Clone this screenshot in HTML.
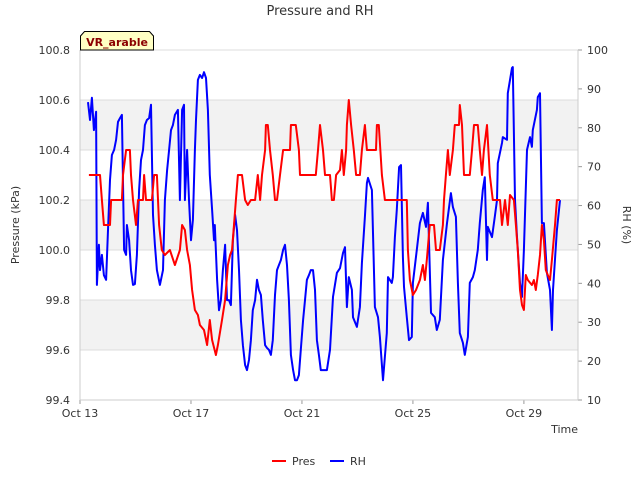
<!DOCTYPE html>
<html><head><meta charset="utf-8"><style>
body{margin:0;background:#fff;font-family:"Liberation Sans","DejaVu Sans",sans-serif}
svg text{font-family:"DejaVu Sans","Liberation Sans",sans-serif}
</style></head><body>
<svg id="c" width="640" height="480" viewBox="0 0 640 480" xmlns="http://www.w3.org/2000/svg">
<rect width="640" height="480" fill="#fff"/>
<text x="320" y="15" text-anchor="middle" font-size="13" fill="#333">Pressure and RH</text>
<g id="bands"></g><g id="grid"></g><g id="axes"></g><g id="series"></g>
<text transform="translate(19,225) rotate(-90)" text-anchor="middle" font-size="11" fill="#333">Pressure (kPa)</text>
<text transform="translate(623,225) rotate(90)" text-anchor="middle" font-size="11" fill="#333">RH (%)</text>
<text x="578" y="433" text-anchor="end" font-size="11" fill="#333">Time</text>
<g>
<path d="M80.5,50 L80.5,36 L84.5,31.5 L149.5,31.5 L153.5,36 L153.5,50 Z" fill="#ffffc4" stroke="#000" stroke-width="1"/>
<text x="117" y="46" text-anchor="middle" font-size="11" font-weight="bold" fill="#8b0000">VR_arable</text>
</g>
<g>
<g><line x1="272" y1="461" x2="286" y2="461" stroke="#f00" stroke-width="2"/><text x="292" y="465" font-size="11" fill="#333">Pres</text></g>
<g><line x1="330" y1="461" x2="344" y2="461" stroke="#00f" stroke-width="2"/><text x="350" y="465" font-size="11" fill="#333">RH</text></g>
</g>
</svg>
<script>
const xTickDays=[0,4,8,12,16];
const xTickLabels=["Oct 13","Oct 17","Oct 21","Oct 25","Oct 29"];
const pTicks=[99.4,99.6,99.8,100.0,100.2,100.4,100.6,100.8];
const rhTicks=[10,20,30,40,50,60,70,80,90,100];
const presDays=[0.32,0.72,0.79,0.86,1.08,1.12,1.51,1.55,1.66,1.80,1.84,1.91,2.02,2.09,2.27,2.31,2.38,2.59,2.67,2.77,2.85,2.95,3.06,3.24,3.42,3.60,3.68,3.78,3.86,3.96,4.04,4.14,4.25,4.32,4.47,4.58,4.68,4.76,4.83,4.90,4.97,5.12,5.23,5.33,5.41,5.48,5.55,5.62,5.69,5.84,5.95,6.05,6.16,6.31,6.41,6.49,6.56,6.67,6.70,6.77,6.85,6.95,7.03,7.10,7.21,7.32,7.57,7.60,7.78,7.89,7.93,8.50,8.58,8.65,8.76,8.83,9.01,9.08,9.15,9.23,9.37,9.44,9.51,9.59,9.62,9.69,9.77,9.87,9.95,10.09,10.16,10.27,10.34,10.67,10.70,10.77,10.88,10.99,11.78,11.82,11.89,12.00,12.11,12.25,12.36,12.43,12.50,12.61,12.76,12.83,12.97,13.08,13.12,13.19,13.26,13.33,13.44,13.51,13.66,13.69,13.77,13.84,14.05,14.13,14.20,14.34,14.41,14.49,14.56,14.67,14.77,14.88,15.14,15.21,15.32,15.42,15.50,15.64,15.71,15.78,15.86,15.93,16.00,16.07,16.14,16.29,16.36,16.43,16.50,16.58,16.65,16.72,16.79,16.86,16.94,17.01,17.12,17.19,17.30];
const presVals=[100.3,100.3,100.2,100.1,100.1,100.2,100.2,100.3,100.4,100.4,100.3,100.2,100.1,100.2,100.2,100.3,100.2,100.2,100.3,100.3,100.1,100.0,99.98,100.0,99.94,100.0,100.1,100.08,100.0,99.94,99.84,99.76,99.74,99.7,99.68,99.62,99.72,99.64,99.61,99.58,99.62,99.72,99.8,99.94,99.98,100.0,100.1,100.2,100.3,100.3,100.2,100.18,100.2,100.2,100.3,100.2,100.3,100.4,100.5,100.5,100.4,100.3,100.2,100.2,100.3,100.4,100.4,100.5,100.5,100.4,100.3,100.3,100.4,100.5,100.4,100.3,100.3,100.2,100.2,100.3,100.32,100.4,100.3,100.4,100.5,100.6,100.5,100.4,100.3,100.3,100.4,100.5,100.4,100.4,100.5,100.5,100.3,100.2,100.2,100.0,99.88,99.82,99.84,99.88,99.94,99.88,99.96,100.1,100.1,100.0,100.0,100.1,100.2,100.3,100.4,100.3,100.4,100.5,100.5,100.58,100.5,100.3,100.3,100.4,100.5,100.5,100.4,100.3,100.4,100.5,100.3,100.2,100.2,100.1,100.2,100.1,100.22,100.2,100.1,100.0,99.84,99.78,99.76,99.9,99.88,99.86,99.88,99.84,99.9,99.98,100.1,100.04,99.92,99.9,99.88,99.96,100.1,100.2,100.2];
const rhDays=[0.29,0.36,0.43,0.50,0.58,0.61,0.68,0.72,0.79,0.86,0.94,1.01,1.08,1.15,1.23,1.30,1.37,1.44,1.51,1.59,1.66,1.69,1.77,1.84,1.91,1.98,2.05,2.13,2.20,2.27,2.34,2.41,2.49,2.56,2.63,2.70,2.77,2.88,2.99,3.06,3.14,3.21,3.28,3.35,3.42,3.53,3.60,3.68,3.75,3.78,3.86,3.93,4.00,4.07,4.14,4.18,4.25,4.32,4.40,4.47,4.54,4.61,4.68,4.76,4.83,4.86,4.94,5.01,5.08,5.15,5.23,5.30,5.37,5.44,5.51,5.59,5.66,5.73,5.80,5.87,5.95,6.02,6.09,6.16,6.23,6.31,6.38,6.45,6.52,6.59,6.67,6.74,6.81,6.88,6.95,7.03,7.10,7.17,7.24,7.32,7.39,7.46,7.53,7.60,7.68,7.75,7.82,7.89,7.96,8.04,8.11,8.18,8.25,8.32,8.40,8.47,8.54,8.61,8.68,8.76,8.90,9.01,9.12,9.26,9.37,9.48,9.55,9.62,9.69,9.80,9.84,9.98,10.09,10.16,10.27,10.34,10.38,10.52,10.56,10.63,10.74,10.81,10.92,11.06,11.10,11.24,11.28,11.35,11.42,11.50,11.57,11.64,11.68,11.78,11.86,11.96,12.00,12.14,12.25,12.36,12.47,12.54,12.65,12.79,12.86,12.97,13.08,13.23,13.37,13.44,13.55,13.62,13.69,13.80,13.87,13.98,14.05,14.16,14.23,14.34,14.41,14.52,14.59,14.67,14.70,14.85,14.95,15.03,15.06,15.21,15.24,15.39,15.42,15.57,15.60,15.68,15.75,15.86,15.93,16.00,16.11,16.22,16.29,16.32,16.47,16.50,16.58,16.65,16.72,16.83,16.94,17.01,17.05,17.19,17.30];
const rhVals=[86.6,82.0,87.7,79.4,84.1,39.6,49.9,43.4,47.3,42.1,40.9,53.7,66.6,73.0,74.3,76.9,81.5,82.5,83.3,48.6,47.3,55.0,51.1,43.4,39.6,39.8,47.3,64.0,71.7,74.3,80.7,82.0,82.5,85.9,57.6,49.9,43.4,39.6,43.4,61.4,69.1,74.3,79.4,80.7,83.3,84.6,61.4,84.6,85.9,61.4,74.3,61.4,51.1,56.3,74.3,82.0,92.3,93.6,92.8,94.3,92.8,84.6,67.9,58.9,51.1,55.0,40.9,33.1,35.7,43.4,49.9,35.7,35.7,34.4,51.1,57.6,53.7,43.4,30.6,24.1,19.0,17.7,20.3,25.4,33.1,35.7,40.9,38.3,37.0,30.6,24.1,23.4,22.9,21.6,25.4,37.0,43.4,44.7,46.0,48.6,49.9,44.7,35.7,21.6,17.7,15.1,15.1,16.4,22.9,30.6,35.7,40.9,42.1,43.4,43.4,38.3,25.4,21.6,17.7,17.7,17.7,22.9,36.5,42.7,43.9,47.8,49.3,33.9,41.6,38.3,31.3,28.8,33.9,45.2,57.1,65.8,67.1,64.0,52.9,33.9,31.3,26.2,15.1,27.2,41.6,40.1,41.6,51.9,58.9,69.9,70.4,46.8,39.1,31.3,25.4,26.2,40.1,48.6,55.5,58.1,54.5,60.7,32.4,31.3,28.0,30.6,46.0,55.5,63.2,59.6,57.1,40.1,27.2,24.7,21.6,26.2,40.1,41.6,43.4,48.6,55.5,64.0,67.3,46.0,54.5,51.9,57.1,61.4,70.9,76.1,77.6,76.9,88.9,95.4,95.6,61.4,51.9,40.1,36.5,48.6,74.3,77.6,75.1,79.4,84.6,87.9,88.9,55.5,55.5,42.7,38.3,28.0,38.3,53.7,61.4];

const L=80,R=578,T=50,B=400,NS="http://www.w3.org/2000/svg";
const xS=d=>L+(d-0)*(R-L)/17.95;
const yP=v=>B-(v-99.4)*(B-T)/1.4;
const yR=v=>B-(v-10)*(B-T)/90;
function mk(tag,attrs,parent){const e=document.createElementNS(NS,tag);for(const k in attrs)e.setAttribute(k,attrs[k]);parent.appendChild(e);return e;}
const bands=document.getElementById('bands'),grid=document.getElementById('grid'),axes=document.getElementById('axes'),series=document.getElementById('series');
[[99.6,99.8],[100.0,100.2],[100.4,100.6]].forEach(b=>{const r=mk('rect',{x:L,y:yP(b[1]),width:R-L,height:yP(b[0])-yP(b[1]),fill:'#f2f2f2'},bands);

});
pTicks.forEach(v=>{const y=yP(v);
const g=mk('line',{x1:L,x2:R,y1:y,y2:y,stroke:'#dcdcdc','stroke-width':1},grid);


const t=mk('text',{x:L-10,y:y+4,'text-anchor':'end','font-size':11,fill:'#333'},axes);t.textContent=v.toFixed(1);

});
rhTicks.forEach(v=>{const y=yR(v);
mk('line',{x1:R,x2:R+4,y1:y,y2:y,stroke:'#999'},axes);
const t=mk('text',{x:R+9,y:y+4,'font-size':11,fill:'#333'},axes);t.textContent=v;

});
xTickDays.forEach((d,i)=>{const x=xS(d);
mk('line',{x1:x,x2:x,y1:B,y2:B+4,stroke:'#999'},axes);
const t=mk('text',{x:x,y:B+17,'text-anchor':'middle','font-size':11,fill:'#333'},axes);t.textContent=xTickLabels[i];

});
const al=mk('line',{x1:L,x2:L,y1:T,y2:B,stroke:'#ccc'},axes);


const ar=mk('line',{x1:R,x2:R,y1:T,y2:B,stroke:'#ccc'},axes);


const ab=mk('line',{x1:L,x2:R,y1:B,y2:B,stroke:'#ccc'},axes);


const rp=rhDays.map((d,i)=>xS(d).toFixed(1)+','+yR(rhVals[i]).toFixed(1)).join(' ');
const rl=mk('polyline',{points:rp,fill:'none',stroke:'#0000ff','stroke-width':2,'stroke-linejoin':'round'},series);


const pp=presDays.map((d,i)=>xS(d).toFixed(1)+','+yP(presVals[i]).toFixed(1)).join(' ');
const pl=mk('polyline',{points:pp,fill:'none',stroke:'#ff0000','stroke-width':2,'stroke-linejoin':'round'},series);


</script>
</body></html>
